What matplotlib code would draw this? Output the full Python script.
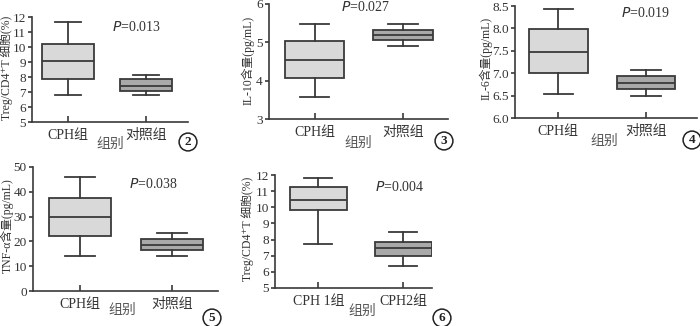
import matplotlib
matplotlib.use("Agg")
import matplotlib.pyplot as plt

FONT = ['Liberation Serif', 'Noto Sans CJK SC', 'DejaVu Sans']
plt.rcParams['font.family'] = FONT

# box statistics: (whislo, q1, median, q3, whishi)
p2_groups = ['CPH组', '对照组']
p2_cph = (6.8, 7.9, 9.05, 10.2, 11.7)
p2_ctrl = (6.8, 7.05, 7.4, 7.85, 8.15)

p3_groups = ['CPH组', '对照组']
p3_cph = (3.57, 4.06, 4.54, 5.03, 5.48)
p3_ctrl = (4.9, 5.05, 5.18, 5.33, 5.47)

p4_groups = ['CPH组', '对照组']
p4_cph = (6.53, 7.0, 7.47, 7.98, 8.43)
p4_ctrl = (6.5, 6.64, 6.79, 6.94, 7.08)

p5_groups = ['CPH组', '对照组']
p5_cph = (14, 22, 29.8, 37.5, 46)
p5_ctrl = (14, 16.4, 18.5, 21, 23.3)

p6_groups = ['CPH 1组', 'CPH2组']
p6_cph1 = (7.75, 9.85, 10.45, 11.25, 11.8)
p6_cph2 = (6.35, 7.0, 7.45, 7.85, 8.45)

W, H = 700, 326
fig = plt.figure(figsize=(7, 3.26), dpi=100)

LINE = '#3a3a3a'
TXT = '#333333'


def make_ax(left, top, right, bottom):
    return fig.add_axes([left / W, 1 - bottom / H, (right - left) / W, (bottom - top) / H])


def fx(x):
    return x / W


def fy(y):
    return 1 - y / H


def panel(ax, stats_pairs, groups, ylim, yticks, xlim, ylabel, ylab_xy, xlab_xy,
          ptext, pxy, num, numxy):
    colors = ['#d9d9d9', '#a9a9a9']
    stats = []
    for s, g in zip(stats_pairs, groups):
        stats.append(dict(whislo=s[0], q1=s[1], med=s[2], q3=s[3], whishi=s[4], label=g))
    bp = ax.bxp(stats, positions=[1, 2], widths=0.67, patch_artist=True,
                showfliers=False, capwidths=0.33)
    for patch, c in zip(bp['boxes'], colors):
        patch.set_facecolor(c)
        patch.set_edgecolor(LINE)
        patch.set_linewidth(1.3)
    for key in ['whiskers', 'caps', 'medians']:
        for l in bp[key]:
            l.set_color(LINE)
            l.set_linewidth(1.3)
    ax.set_xlim(*xlim)
    ax.set_ylim(*ylim)
    ax.set_yticks(yticks)
    ax.spines['top'].set_visible(False)
    ax.spines['right'].set_visible(False)
    for sp in ['left', 'bottom']:
        ax.spines[sp].set_color(LINE)
        ax.spines[sp].set_linewidth(1.2)
    ax.tick_params(axis='y', direction='out', length=3, width=1.2, colors=LINE,
                   labelsize=9.5, labelcolor=TXT, pad=1.5)
    ax.tick_params(axis='x', direction='in', length=4, width=1.2, colors=LINE,
                   labelsize=10, labelcolor=TXT, pad=5)
    ax.set_xticklabels(groups, family=FONT)

    ax.set_ylabel(ylabel, fontsize=8.5, color=TXT, va='center')
    ax.yaxis.set_label_coords(fx(ylab_xy[0]), fy(ylab_xy[1]), transform=fig.transFigure)
    ax.set_xlabel('组别', fontsize=10, color='#555555', va='center')
    ax.xaxis.set_label_coords(fx(xlab_xy[0]), fy(xlab_xy[1]), transform=fig.transFigure)

    fig.text(fx(pxy[0]), fy(pxy[1]), '$P$=' + ptext, fontsize=10, color=TXT,
             ha='center', va='center')
    fig.text(fx(numxy[0]), fy(numxy[1]), str(num), fontsize=9.5, fontweight='bold',
             color='#222222', ha='center', va='center',
             bbox=dict(boxstyle='circle,pad=0.22', fc='white', ec='#222222', lw=1.1))


ax2 = make_ax(32, 17, 188, 122)
panel(ax2, [p2_cph, p2_ctrl], p2_groups, (5, 12), range(5, 13), (0.54, 2.54),
      'Treg/CD4⁺T 细胞(%)', (7, 68), (110, 144), '0.013', (136, 27), 2, (188, 142))

ax3 = make_ax(269, 4, 448, 119)
panel(ax3, [p3_cph, p3_ctrl], p3_groups, (3, 6), range(3, 7), (0.48, 2.51),
      'IL-10含量(pg/mL)', (248, 60), (358, 143), '0.027', (365, 7), 3, (444, 141))

ax4 = make_ax(515, 6, 697, 118)
panel(ax4, [p4_cph, p4_ctrl], p4_groups, (6, 8.5), [6.0, 6.5, 7.0, 7.5, 8.0, 8.5],
      (0.51, 2.58), 'IL-6含量(pg/mL)', (486, 58), (604, 141), '0.019', (645, 13),
      4, (692, 140))
ax4.set_yticklabels(['6.0', '6.5', '7.0', '7.5', '8.0', '8.5'])

ax5 = make_ax(33, 167, 218, 291)
panel(ax5, [p5_cph, p5_ctrl], p5_groups, (0, 50), range(0, 51, 10), (0.49, 2.5),
      'TNF-α含量(pg/mL)', (7, 226), (122, 310), '0.038', (153, 184), 5, (212, 318))

ax6 = make_ax(275, 175, 432, 288)
panel(ax6, [p6_cph1, p6_cph2], p6_groups, (5, 12), range(5, 13), (0.49, 2.34),
      'Treg/CD4⁺T 细胞(%)', (248, 229), (362, 311), '0.004', (400, 187), 6, (442, 318))

fig.savefig('out.png', dpi=100, facecolor='white')
